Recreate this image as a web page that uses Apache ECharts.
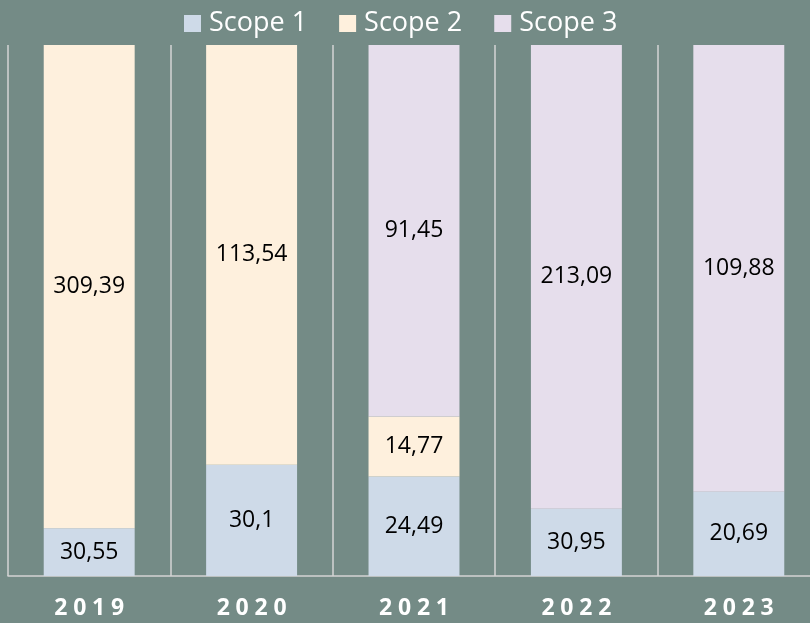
<!DOCTYPE html>
<html>
<head>
<meta charset="utf-8">
<title>Scope emissions</title>
<script src="https://cdn.jsdelivr.net/npm/echarts@6/dist/echarts.min.js"></script>
<style>
  html, body { margin: 0; padding: 0; background: #748b86; overflow: hidden; }
  /* last column runs past the right edge in the original */
  #chart { width: 822px; height: 623px; }
</style>
</head>
<body>
<div id="chart"></div>
<script>
// Chart data (raw values, shown as share of each year's total)
var years = ['2019', '2020', '2021', '2022', '2023'];
var scope1 = [30.55, 30.1, 24.49, 30.95, 20.69];
var scope2 = [309.39, 113.54, 14.77, null, null];
var scope3 = [null, null, 91.45, 213.09, 109.88];

var seriesNames = ['Scope 1', 'Scope 2', 'Scope 3'];
var seriesColors = ['#cedae8', '#fef0dd', '#e6deec'];

// Totals per year, used to turn values into percentages
function yearTotal(i) {
    return (scope1[i] || 0) + (scope2[i] || 0) + (scope3[i] || 0);
}

// Build percentage data, keep raw number for the label
function toPercent(values) {
    return values.map(function(v, i) {
        if (v === null || v === undefined) return { value: null, raw: null };
        return { value: v / yearTotal(i) * 100, raw: v };
    });
}

// Format with comma decimal separator
function formatRaw(params) {
    var raw = params.data && params.data.raw;
    if (raw === null || raw === undefined) return '';
    return String(raw).replace('.', ',');
}

var chart = echarts.init(document.getElementById('chart'), null, { renderer: 'canvas' });

var series = [scope1, scope2, scope3].map(function(values, k) {
    return {
        name: seriesNames[k],
        type: 'bar',
        stack: 'total',
        barWidth: '56%',
        data: toPercent(values),
        itemStyle: { color: seriesColors[k] },
        label: {
            show: true,
            position: 'inside',
            color: '#000',
            fontFamily: 'Open Sans',
            fontSize: 23,
            formatter: formatRaw
        }
    };
});

chart.setOption({
    backgroundColor: '#748b86',
    animation: false,
    legend: {
        top: 10,
        left: 184,
        padding: 0,
        icon: 'rect',
        itemWidth: 17,
        itemHeight: 17,
        itemGap: 32,
        textStyle: {
            color: '#ffffff',
            fontFamily: 'Open Sans',
            fontSize: 27,
            padding: [0, 0, 0, 3]
        },
        data: seriesNames
    },
    grid: { left: 8, right: 2, top: 45, bottom: 47, containLabel: false },
    xAxis: {
        type: 'category',
        data: years,
        axisLine: { show: true, lineStyle: { color: '#d4d4d4', width: 1.5 } },
        axisTick: { show: false },
        splitLine: { show: true, lineStyle: { color: '#d4d4d4', width: 1.5 } },
        axisLabel: {
            color: '#ffffff',
            fontFamily: 'Open Sans',
            fontWeight: 'bold',
            fontSize: 23,
            margin: 21,
            // spread the digits a little, like the original
            formatter: function(v) { return v.split('').join('\u2005'); }
        }
    },
    yAxis: {
        type: 'value',
        min: 0,
        max: 100,
        show: false,
        splitLine: { show: false }
    },
    series: series
});

window.addEventListener('resize', function() {
    if (chart) chart.resize();
});
</script>
</body>
</html>
